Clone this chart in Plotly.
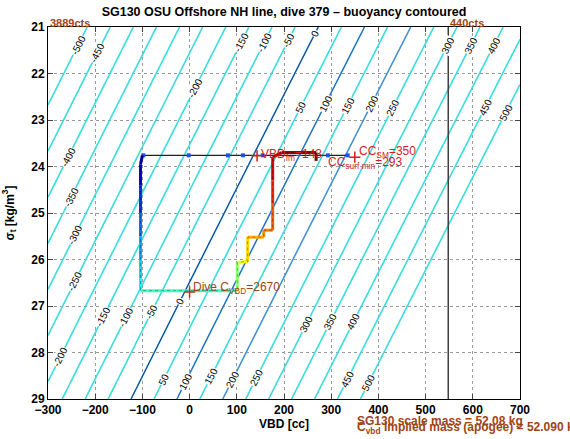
import numpy as np
import plotly.graph_objects as go
from plotly.colors import sample_colorscale

# ---------------- data ----------------
title_text = "SG130 OSU Offshore NH line, dive 379 – buoyancy contoured"
mass_g = 52090.0          # implied mass (apogee), g
v0_cc = 50746.0           # hull volume at VBD = 0, cc
contour_levels = list(range(-500, 501, 50))
blue_levels = [0, 100, 200]
blue_colors = ["#23379a", "#3a58c4", "#6479d4"]

# contour label placement: level and sigma of the label
label_levels = [-500, -450, -150, -100, -50, 0, 300, 350, 400,
                -200, -400, -350, -300, -250, -200,
                -150, -100, -50, 0,
                50, 100, 150, 200, 250, 450, 500,
                300, 350, 400,
                50, 100, 150, 200, 250, 450, 500]
label_sigmas = [21.39, 21.55, 21.33, 21.33, 21.29, 21.14, 21.39, 21.39, 21.39,
                22.32, 23.80, 24.66, 25.47, 26.48, 28.09,
                27.23, 27.25, 27.12, 26.90,
                28.58, 28.62, 28.52, 28.58, 28.54, 28.58, 28.65,
                27.40, 27.34, 27.34,
                22.73, 22.64, 22.68, 22.64, 22.73, 22.73, 22.83]

# surface segment (black line with blue samples)
surf_vbd = [335, -100]
surf_sigma = [23.76, 23.76]
surf_pts_vbd = [335, 293, 155, 113, 81, -2, -98]
surf_pts_sigma = [23.76, 23.76, 23.76, 23.76, 23.76, 23.76, 23.76]

# dive path vertices, with relative time for colouring
dive_vbd = [-100, -104, -104, -104, -104, -104, -104, -104, 101, 101, 111, 123,
            123, 157, 157, 176, 176, 176, 176, 195, 268, 268]
dive_sigma = [23.76, 23.95, 24.40, 25.00, 25.50, 26.00, 26.40, 26.67, 26.67, 26.07,
              26.05, 26.05, 25.52, 25.52, 25.37, 25.37, 24.80, 24.30, 23.80, 23.70,
              23.70, 23.88]
dive_time = [0.00, 0.06, 0.14, 0.21, 0.27, 0.32, 0.36, 0.40, 0.47, 0.56, 0.62, 0.64,
             0.69, 0.72, 0.74, 0.76, 0.81, 0.87, 0.93, 0.96, 0.98, 1.00]

vbd_fm = 143
cc_sm = 350
cc_surf_min = 293
dive_c_vbd = 2670
dive_c_vbd_cc = 0
vbd_440cts = 548
surface_sigma = 23.77
apogee_sigma = 26.70

x_ticks = [-300, -200, -100, 0, 100, 200, 300, 400, 500, 600, 700]
y_ticks = [21, 22, 23, 24, 25, 26, 27, 28, 29]

# ---------------- figure ----------------
jet = [[0.0, "rgb(0,0,128)"], [0.125, "rgb(0,0,255)"], [0.375, "rgb(0,255,255)"],
       [0.625, "rgb(255,255,0)"], [0.875, "rgb(255,0,0)"], [1.0, "rgb(128,0,0)"]]

def buoyancy(vbd, sig):
    return (v0_cc + vbd) * (1000.0 + sig) / 1000.0 - mass_g

def vbd_at(level, sig):
    return (mass_g + level) / (1.0 + sig / 1000.0) - v0_cc

gx = np.linspace(-300, 700, 201)
gy = np.linspace(21, 29, 161)
GX, GY = np.meshgrid(gx, gy)
Z = buoyancy(GX, GY)

fig = go.Figure()
fig.add_trace(go.Contour(
    x=gx, y=gy, z=Z, showscale=False, hoverinfo="skip",
    contours=dict(start=contour_levels[0], end=contour_levels[-1], size=50,
                  coloring="none"),
    line=dict(color="#38dcdc", width=1.6)))
for lev, col in zip(blue_levels, blue_colors):
    fig.add_trace(go.Contour(
        x=gx, y=gy, z=Z, showscale=False, hoverinfo="skip",
        contours=dict(start=lev, end=lev, size=50, coloring="none"),
        line=dict(color=col, width=1.1)))

# 440 cts line
fig.add_trace(go.Scatter(x=[vbd_440cts, vbd_440cts], y=[21, 29], mode="lines",
                         line=dict(color="#404040", width=1.5), hoverinfo="skip"))

# surface line
fig.add_trace(go.Scatter(x=surf_vbd, y=surf_sigma, mode="lines",
                         line=dict(color="#222222", width=1.2)))
fig.add_trace(go.Scatter(x=surf_pts_vbd, y=surf_pts_sigma, mode="markers",
                         marker=dict(color="#2050f0", size=4, symbol="square")))

# dive path coloured by time
for i in range(len(dive_vbd) - 1):
    c = sample_colorscale(jet, [(dive_time[i] + dive_time[i + 1]) / 2])[0]
    fig.add_trace(go.Scatter(x=dive_vbd[i:i + 2], y=dive_sigma[i:i + 2], mode="lines",
                             line=dict(color=c, width=3)))
fig.add_trace(go.Scatter(x=dive_vbd, y=dive_sigma, mode="lines",
                         line=dict(color="rgba(0,0,0,0.4)", width=0.8, dash="dot")))

# markers
fig.add_trace(go.Scatter(x=[vbd_fm, cc_sm], y=[surface_sigma, surface_sigma + 0.03],
                         mode="markers",
                         marker=dict(symbol="cross-thin", size=8,
                                     line=dict(color="#d41c1c", width=1.5))))
fig.add_trace(go.Scatter(x=[dive_c_vbd_cc], y=[apogee_sigma], mode="markers",
                         marker=dict(symbol="cross-thin", size=8,
                                     line=dict(color="#b0361c", width=1.5))))

ann = []
red = "#d41c1c"
brown = "#9e4416"
tf = "Liberation Sans, Arial, sans-serif"
for lev, sg in zip(label_levels, label_sigmas):
    ann.append(dict(x=vbd_at(lev, sg), y=sg, xref="x", yref="y", text=str(lev),
                    showarrow=False, textangle=-63, bgcolor="white", borderpad=0,
                    font=dict(family=tf, size=10, color="black")))

ann.append(dict(x=vbd_fm + 5, y=surface_sigma - 0.02, xref="x", yref="y",
                text=f"VBD<sub>fm</sub>=143", showarrow=False, xanchor="left",
                yanchor="middle", font=dict(family=tf, size=12, color=red)))
ann.append(dict(x=cc_sm + 4, y=surface_sigma - 0.09, xref="x", yref="y",
                text=f"CC<sub>SM</sub>={cc_sm}", showarrow=False, xanchor="left",
                yanchor="middle", font=dict(family=tf, size=12, color=red)))
ann.append(dict(x=cc_surf_min - 4, y=surface_sigma + 0.16, xref="x", yref="y",
                text=f"CC<sub>surf min</sub>={cc_surf_min}", showarrow=False,
                xanchor="left", yanchor="middle",
                font=dict(family=tf, size=12, color=red)))
ann.append(dict(x=dive_c_vbd_cc + 4, y=apogee_sigma - 0.08, xref="x", yref="y",
                text=f"Dive C<sub>VBD</sub>={dive_c_vbd}", showarrow=False,
                xanchor="left", yanchor="middle",
                font=dict(family=tf, size=12, color=brown)))
ann.append(dict(x=-300, y=1.01, xref="x", yref="paper", text="3889cts",
                showarrow=False, xanchor="left", yanchor="middle",
                font=dict(family=tf, size=11, color=brown, weight="bold")))
ann.append(dict(x=vbd_440cts, y=1.01, xref="x", yref="paper", text="440cts",
                showarrow=False, xanchor="left", yanchor="middle",
                font=dict(family=tf, size=11, color=brown, weight="bold")))
ann.append(dict(x=0.651, y=-0.059, xref="paper", yref="paper",
                text="SG130 scale mass = 52.08 kg", showarrow=False,
                xanchor="left", yanchor="middle",
                font=dict(family=tf, size=12, color=brown, weight="bold")))
ann.append(dict(x=0.651, y=-0.077, xref="paper", yref="paper",
                text="C<sub>vbd</sub> Implied mass (apogee) = 52.090 kg", showarrow=False,
                xanchor="left", yanchor="middle",
                font=dict(family=tf, size=12, color=brown, weight="bold")))

fig.update_layout(
    width=570, height=439,
    margin=dict(l=48, r=50, t=27, b=40),
    paper_bgcolor="white", plot_bgcolor="white",
    showlegend=False,
    font=dict(family=tf, size=12, color="black"),
    title=dict(text=title_text, x=0.5, xref="paper", y=1 - 12 / 439, yanchor="middle",
               font=dict(family=tf, size=12.5, color="black", weight="bold")),
    annotations=ann,
    xaxis=dict(range=[-300, 700], tickvals=x_ticks, ticks="inside", ticklen=5,
               showline=True, linecolor="black", linewidth=1, mirror="ticks",
               showgrid=True, gridcolor="#9a9a9a", griddash="dot", gridwidth=1,
               zeroline=False, automargin=False, tickfont=dict(size=12, weight="bold"),
               title=dict(text="VBD [cc]", standoff=2,
                          font=dict(size=12, weight="bold"))),
    yaxis=dict(range=[29, 21], tickvals=y_ticks, ticks="inside", ticklen=5,
               showline=True, linecolor="black", linewidth=1, mirror="ticks",
               showgrid=True, gridcolor="#9a9a9a", griddash="dot", gridwidth=1,
               zeroline=False, automargin=False, tickfont=dict(size=12, weight="bold"),
               title=dict(text="σ<sub>t</sub> [kg/m<sup>3</sup>]", standoff=14,
                          font=dict(size=12, weight="bold"))),
)

fig.write_html("out.html", config={"displayModeBar": False},
               post_script="document.body.style.margin='0';document.body.style.overflow='hidden';")
